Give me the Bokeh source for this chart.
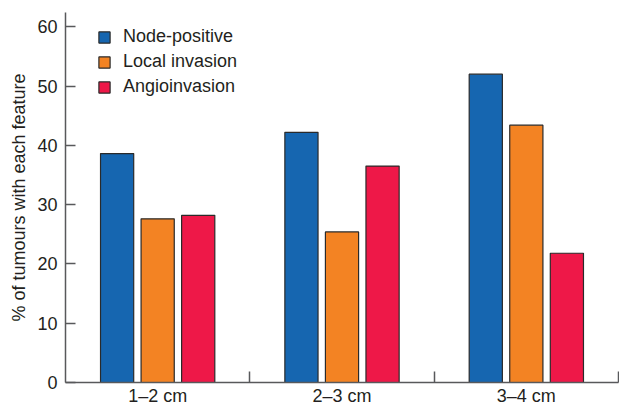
import numpy as np
from bokeh.plotting import figure
from bokeh.models import (ColumnDataSource, Range1d, FixedTicker, Legend, LegendItem,
                          CustomJSTickFormatter)
from bokeh.transform import dodge
from bokeh.embed import file_html
from bokeh.resources import INLINE

# ---- data ----
categories = ["1–2 cm", "2–3 cm", "3–4 cm"]
series_names = ["Node-positive", "Local invasion", "Angioinvasion"]
node_positive = [38.6, 42.2, 52.0]
local_invasion = [27.6, 25.4, 43.4]
angioinvasion = [28.2, 36.5, 21.8]
y_ticks = [0, 10, 20, 30, 40, 50, 60]
y_label = "% of tumours with each feature"

colors = ["#1666b0", "#f38323", "#ee1848"]
FONT = "Liberation Sans"
TEXT = "#231f20"
AXIS = "#58595b"

centers = [i + 0.5 for i in range(len(categories))]
src = ColumnDataSource(dict(x=centers, node=node_positive,
                            local=local_invasion, angio=angioinvasion))

p = figure(width=619, height=408,
           x_range=Range1d(0, len(categories)), y_range=Range1d(0, 62.4),
           output_backend="svg", toolbar_location=None,
           min_border_left=65, min_border_right=1, min_border_top=12,
           min_border_bottom=26)
p.outline_line_color = None
p.grid.visible = False
p.background_fill_color = "white"
p.border_fill_color = "white"

fields = ["node", "local", "angio"]
offsets = [-0.22, 0.0, 0.22]
renderers = []
for f, off, c in zip(fields, offsets, colors):
    r = p.vbar(x=dodge("x", off, range=p.x_range), top=f, width=0.18, bottom=0,
               source=src, fill_color=c, line_color="#2a2a2a", line_width=1.2)
    renderers.append(r)

# x axis: labels at category centres, small inward ticks at category boundaries
xa = p.xaxis[0]
xa.ticker = FixedTicker(ticks=centers,
                        minor_ticks=[i + 1 for i in range(len(categories))])
xa.formatter = CustomJSTickFormatter(args=dict(labels=categories),
                                     code="return labels[Math.floor(tick)] || '';")
xa.major_tick_in = 0
xa.major_tick_out = 0
xa.minor_tick_in = 11
xa.minor_tick_out = 0
xa.minor_tick_line_color = AXIS
xa.minor_tick_line_width = 1.5
xa.axis_line_color = AXIS
xa.axis_line_width = 1.5
xa.major_label_standoff = 3
xa.axis_label_standoff = 0
xa.major_label_text_font = FONT
xa.major_label_text_font_size = "18px"
xa.major_label_text_color = TEXT

ya = p.yaxis[0]
ya.ticker = FixedTicker(ticks=y_ticks, minor_ticks=[])
ya.major_tick_in = 10
ya.major_tick_out = 0
ya.major_tick_line_color = AXIS
ya.major_tick_line_width = 1.5
ya.minor_tick_line_color = None
ya.axis_line_color = AXIS
ya.axis_line_width = 1.5
ya.major_label_standoff = 8
ya.major_label_text_font = FONT
ya.major_label_text_font_size = "18px"
ya.major_label_text_color = TEXT
ya.axis_label = y_label
ya.axis_label_text_font = FONT
ya.axis_label_text_font_size = "18px"
ya.axis_label_text_font_style = "normal"
ya.axis_label_text_color = TEXT
ya.axis_label_standoff = 5

legend = Legend(items=[LegendItem(label=n, renderers=[r]) for n, r in zip(series_names, renderers)],
                location=(32, 285), padding=0, margin=0, spacing=4,
                label_height=20, glyph_height=14, glyph_width=14, label_standoff=12,
                label_text_font=FONT, label_text_font_size="18px", label_text_color=TEXT,
                border_line_color=None, background_fill_alpha=0)
p.add_layout(legend)

open("out.html", "w").write(file_html(p, INLINE))
